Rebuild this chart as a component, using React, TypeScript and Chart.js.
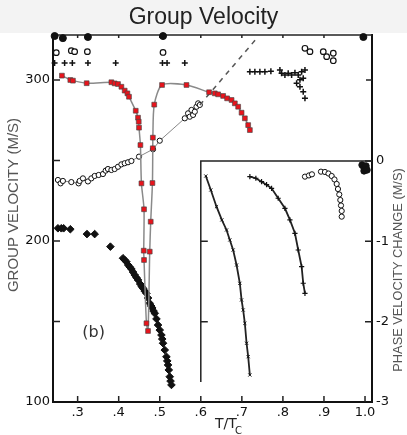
import React, { useEffect, useRef } from 'react';
import { Chart, registerables } from 'chart.js';
Chart.register(...registerables);

// ---- axis ticks ----
const xTickValues = [0.3, 0.4, 0.5, 0.6, 0.7, 0.8, 0.9, 1.0];
const xTickLabels = ['.3', '.4', '.5', '.6', '.7', '.8', '.9', '1.0'];
const yTickValues = [100, 200, 300];
const yTickLabels = ['100', '200', '300'];
const yTickMarks = [150, 200, 250, 300];
const y2TickValues = [-3, -2, -1, 0];
const y2TickLabels = ['-3', '-2', '-1', '0'];
const y2TickMarks = [-2, -1, 0];

// ---- main panel: group velocity (m/s) vs T/Tc ----
// digitized critical curve (red squares), left branch down then right branch up
const critX = [0.2617, 0.2822, 0.2885, 0.3220, 0.3822, 0.3902, 0.3983, 0.4066, 0.4146, 0.4212, 0.4251, 0.4415, 0.4471, 0.4488, 0.4495, 0.4529, 0.4554, 0.4617, 0.4610, 0.4617, 0.4676, 0.4715, 0.4756, 0.4780, 0.4822, 0.4830, 0.4832, 0.4866, 0.5056, 0.5651, 0.6202, 0.6341, 0.6422, 0.6544, 0.6641, 0.6749, 0.6829, 0.6910, 0.6993, 0.7073, 0.7154, 0.7195];
const critY = [302.7, 300.0, 299.6, 298.0, 298.6, 297.9, 297.5, 295.8, 293.4, 291.7, 289.6, 280.9, 276.6, 274.1, 270.4, 259.6, 235.8, 219.7, 194.0, 188.2, 148.9, 144.1, 193.4, 212.0, 236.0, 257.6, 264.2, 284.7, 296.9, 296.9, 292.4, 291.7, 291.1, 290.1, 288.6, 287.6, 285.5, 283.4, 279.7, 276.2, 272.0, 268.9];

// open circles rising chain
const circX = [0.2520, 0.2585, 0.2641, 0.2846, 0.3024, 0.3049, 0.3129, 0.3251, 0.3334, 0.3415, 0.3512, 0.3617, 0.3683, 0.3739, 0.3822, 0.3902, 0.3983, 0.4066, 0.4146, 0.4227, 0.4310, 0.4495, 0.4837, 0.5000, 0.5610, 0.5690, 0.5732, 0.5773, 0.5812, 0.5854, 0.5895, 0.5935, 0.5976];
const circY = [237.9, 235.8, 237.3, 236.6, 235.8, 237.3, 238.9, 237.0, 238.9, 240.4, 241.0, 241.6, 243.7, 244.7, 244.1, 244.7, 246.1, 247.6, 248.3, 248.9, 249.7, 252.4, 257.0, 262.3, 276.2, 279.3, 277.2, 281.4, 278.3, 280.3, 283.4, 285.5, 284.5];

// dashed extension
const dashX = [0.5976, 0.739];
const dashY = [284.5, 326.7];

// open circles near top
const topCircX = [0.248, 0.2846, 0.2927, 0.3237, 0.508, 0.8537, 0.8659, 0.8983, 0.9066, 0.9227, 0.9227];
const topCircY = [317.0, 318.2, 317.6, 317.6, 317.1, 319.7, 317.6, 317.6, 314.5, 316.6, 312.0];

// plus markers near top
const plusX = [0.2439, 0.2683, 0.2871, 0.3251, 0.3927, 0.5066, 0.5178, 0.5610, 0.7195, 0.7317, 0.7439, 0.7561, 0.7707, 0.7927, 0.7968, 0.8049, 0.8129, 0.8212, 0.8293, 0.8373, 0.8456, 0.8537, 0.8415, 0.8495, 0.8334, 0.8415, 0.8495, 0.8537];
const plusY = [310.5, 310.5, 310.5, 310.5, 310.5, 310.5, 310.5, 310.5, 305.2, 305.2, 305.2, 305.2, 305.4, 306.2, 304.2, 303.1, 304.2, 303.1, 304.5, 303.1, 305.2, 306.2, 300.1, 301.1, 298.0, 295.8, 292.7, 288.6];

// filled dots on the top edge
const topDotX = [0.244, 0.264, 0.325, 0.508, 0.996];
const topDotY = [327.3, 326.0, 326.7, 327.3, 326.7];

// filled dots falling chain
const dotX = [0.2520, 0.2602, 0.2659, 0.2822, 0.3227, 0.3415, 0.3798, 0.4105, 0.4146, 0.4188, 0.4232, 0.4268, 0.4310, 0.4349, 0.4390, 0.4432, 0.4471, 0.4524, 0.4561, 0.4593, 0.4634, 0.4676, 0.4715, 0.4756, 0.4793, 0.4817, 0.4849, 0.4878, 0.4920, 0.4959, 0.5000, 0.5041, 0.5061, 0.5080, 0.5122, 0.5163, 0.5183, 0.5202, 0.5220, 0.5244, 0.5263, 0.5285];
const dotY = [207.9, 207.9, 207.9, 207.3, 204.3, 204.3, 196.5, 189.3, 188.2, 187.1, 185.1, 183.9, 182.6, 180.7, 178.9, 177.3, 175.8, 173.3, 171.7, 170.6, 168.9, 167.5, 164.6, 161.3, 159.6, 158.4, 156.5, 155.1, 151.6, 147.8, 144.7, 141.6, 139.1, 136.5, 132.3, 128.1, 125.5, 123.0, 119.9, 115.7, 113.0, 110.6];

// ---- inset: phase velocity change (m/s) ----
const inXsX = [0.6122, 0.6244, 0.6383, 0.6512, 0.6627, 0.6707, 0.6788, 0.6871, 0.6951, 0.6993, 0.7032, 0.7073, 0.7115, 0.7154, 0.7195];
const inXsY = [-0.187, -0.361, -0.569, -0.734, -0.859, -0.983, -1.108, -1.295, -1.523, -1.730, -1.855, -2.020, -2.269, -2.436, -2.664];
const inPlusX = [0.7195, 0.7341, 0.7480, 0.7602, 0.7724, 0.7885, 0.8049, 0.8171, 0.8293, 0.8373, 0.8456, 0.8495, 0.8537];
const inPlusY = [-0.195, -0.215, -0.258, -0.295, -0.340, -0.464, -0.589, -0.734, -0.900, -1.108, -1.316, -1.522, -1.647];
const inCircX = [0.8537, 0.8634, 0.8707, 0.8927, 0.9024, 0.9110, 0.9188, 0.9256, 0.9310, 0.9341, 0.9373, 0.9398, 0.9415, 0.9432, 0.9432];
const inCircY = [-0.195, -0.180, -0.166, -0.133, -0.137, -0.156, -0.187, -0.230, -0.286, -0.349, -0.417, -0.486, -0.554, -0.622, -0.693];
const inDotX = [0.9927, 0.9976, 1.0024, 0.9976, 1.0049];
const inDotY = [-0.05, -0.087, -0.062, -0.124, -0.112];

const pts = (xs: number[], ys: number[]) => xs.map((x, i) => ({ x, y: ys[i] }));

const TICK_FONT = { family: "'DejaVu Sans', sans-serif", size: 13 };

const framePlugin = {
  id: 'frame',
  beforeDraw(chart: any) {
    const { ctx, width, height } = chart;
    ctx.save();
    ctx.fillStyle = '#ffffff';
    ctx.fillRect(0, 0, width, height);
    ctx.fillStyle = '#f3f3f3';
    ctx.fillRect(0, 0, width, 33);
    ctx.restore();
  },
  beforeDatasetsDraw(chart: any) {
    const { ctx, chartArea } = chart;
    const x = chart.scales.x;
    const y = chart.scales.y;
    const y2 = chart.scales.y2;
    ctx.save();
    ctx.strokeStyle = '#222';
    ctx.lineWidth = 1.5;
    // top border
    ctx.beginPath();
    ctx.moveTo(chartArea.left, chartArea.top);
    ctx.lineTo(chartArea.right, chartArea.top);
    ctx.stroke();
    // inset box
    const ix = x.getPixelForValue(0.6);
    const iy = y2.getPixelForValue(0);
    const ib = y2.getPixelForValue(-2.75);
    ctx.beginPath();
    ctx.moveTo(ix, ib);
    ctx.lineTo(ix, iy);
    ctx.lineTo(chartArea.right, iy);
    ctx.stroke();
    // inward ticks
    ctx.lineWidth = 1.5;
    ctx.beginPath();
    xTickValues.forEach((v) => {
      const px = x.getPixelForValue(v);
      ctx.moveTo(px, chartArea.bottom);
      ctx.lineTo(px, chartArea.bottom - 6);
      ctx.moveTo(px, chartArea.top);
      ctx.lineTo(px, chartArea.top + 3);
    });
    yTickMarks.forEach((v) => {
      const py = y.getPixelForValue(v);
      ctx.moveTo(chartArea.left, py);
      ctx.lineTo(chartArea.left + 7, py);
    });
    const p300 = y.getPixelForValue(300);
    ctx.moveTo(chartArea.right, p300);
    ctx.lineTo(chartArea.right - 6, p300);
    y2TickMarks.forEach((v) => {
      const py = y2.getPixelForValue(v);
      ctx.moveTo(chartArea.right, py);
      ctx.lineTo(chartArea.right - 7, py);
    });
    [-1, -2].forEach((v) => {
      const py = y2.getPixelForValue(v);
      ctx.moveTo(ix, py);
      ctx.lineTo(ix + 7, py);
    });
    ctx.stroke();
    // panel label
    ctx.fillStyle = '#333';
    ctx.font = "16px 'DejaVu Sans', sans-serif";
    ctx.textAlign = 'center';
    ctx.textBaseline = 'middle';
    ctx.fillText('(b)', x.getPixelForValue(0.339), y.getPixelForValue(142.9));
    ctx.restore();
  },
  afterDraw(chart: any) {
    const { ctx } = chart;
    ctx.save();
    ctx.fillStyle = '#555';
    ctx.textAlign = 'center';
    ctx.textBaseline = 'middle';
    ctx.font = "15px 'Liberation Sans', sans-serif";
    ctx.translate(14, 205);
    ctx.rotate(-Math.PI / 2);
    ctx.fillText('GROUP VELOCITY (M/S)', 0, 0);
    ctx.restore();

    ctx.save();
    ctx.fillStyle = '#555';
    ctx.textAlign = 'center';
    ctx.textBaseline = 'middle';
    ctx.font = "12.8px 'Liberation Sans', sans-serif";
    ctx.translate(398.5, 270);
    ctx.rotate(-Math.PI / 2);
    ctx.fillText('PHASE VELOCITY CHANGE (M/S)', 0, 0);
    ctx.restore();

    ctx.save();
    ctx.fillStyle = '#222';
    ctx.textAlign = 'left';
    ctx.textBaseline = 'alphabetic';
    ctx.font = "14px 'DejaVu Sans', sans-serif";
    ctx.fillText('T/T', 215, 428);
    ctx.font = "10px 'DejaVu Sans', sans-serif";
    ctx.fillText('C', 235, 434);
    ctx.restore();
  },
};

export default function App() {
  const ref = useRef<HTMLCanvasElement | null>(null);
  useEffect(() => {
    if (!ref.current) return;
    const chart = new Chart(ref.current, {
      type: 'scatter',
      data: {
        datasets: [
          {
            data: pts(critX, critY),
            showLine: true,
            tension: 0.25,
            borderColor: '#8a8a8a',
            borderWidth: 1.5,
            pointStyle: 'rect',
            pointRadius: 3.4,
            pointBackgroundColor: '#e8141c',
            pointBorderColor: 'rgba(70,70,70,0.8)',
            pointBorderWidth: 0.8,
            clip: false,
          } as any,
          {
            data: pts(dashX, dashY),
            showLine: true,
            borderColor: '#555',
            borderWidth: 1.5,
            borderDash: [5, 5],
            pointRadius: 0,
            clip: false,
          } as any,
          {
            data: pts(circX, circY),
            showLine: true,
            borderColor: '#888',
            borderWidth: 1,
            pointStyle: 'circle',
            pointRadius: 2.6,
            pointBackgroundColor: '#fff',
            pointBorderColor: '#111',
            pointBorderWidth: 1,
            clip: false,
          } as any,
          {
            data: pts(topCircX, topCircY),
            pointStyle: 'circle',
            pointRadius: 2.8,
            pointBackgroundColor: '#fff',
            pointBorderColor: '#111',
            pointBorderWidth: 1.2,
            clip: false,
          } as any,
          {
            data: pts(plusX, plusY),
            pointStyle: 'cross',
            pointRadius: 3,
            pointBorderColor: '#111',
            pointBorderWidth: 1.5,
            clip: false,
          } as any,
          {
            data: pts(topDotX, topDotY),
            pointStyle: 'circle',
            pointRadius: 3.5,
            pointBackgroundColor: '#111',
            pointBorderColor: '#111',
            clip: false,
          } as any,
          {
            data: pts(dotX, dotY),
            pointStyle: 'rectRot',
            pointRadius: 3.8,
            pointBackgroundColor: '#111',
            pointBorderColor: '#111',
            clip: false,
          } as any,
          {
            data: pts(inXsX, inXsY),
            yAxisID: 'y2',
            showLine: true,
            borderColor: '#222',
            borderWidth: 1.8,
            pointStyle: 'crossRot',
            pointRadius: 2.2,
            pointBorderColor: '#111',
            pointBorderWidth: 1,
            clip: false,
          } as any,
          {
            data: pts(inPlusX, inPlusY),
            yAxisID: 'y2',
            showLine: true,
            borderColor: '#222',
            borderWidth: 1.8,
            pointStyle: 'cross',
            pointRadius: 2.6,
            pointBorderColor: '#111',
            pointBorderWidth: 1.2,
            clip: false,
          } as any,
          {
            data: pts(inCircX, inCircY),
            yAxisID: 'y2',
            pointStyle: 'circle',
            pointRadius: 2.6,
            pointBackgroundColor: '#fff',
            pointBorderColor: '#111',
            pointBorderWidth: 1,
            clip: false,
          } as any,
          {
            data: pts(inDotX, inDotY),
            yAxisID: 'y2',
            pointStyle: 'circle',
            pointRadius: 3.2,
            pointBackgroundColor: '#111',
            pointBorderColor: '#111',
            clip: false,
          } as any,
        ],
      },
      options: {
        responsive: false,
        animation: false,
        devicePixelRatio: 1,
        layout: { padding: 0 },
        plugins: {
          legend: { display: false },
          tooltip: { enabled: false },
          title: {
            display: true,
            text: 'Group Velocity',
            color: '#222',
            font: { family: "'Liberation Sans', sans-serif", size: 23, weight: 'normal' },
            padding: { top: 3.5, bottom: 3.9 },
          },
        },
        scales: {
          x: {
            type: 'linear',
            position: 'bottom',
            min: 0.24,
            max: 1.017,
            afterBuildTicks: (s: any) => {
              s.ticks = xTickValues.map((v) => ({ value: v }));
            },
            afterFit: (s: any) => {
              s.height = 33;
            },
            ticks: {
              callback: (_v: any, i: number) => xTickLabels[i],
              autoSkip: false,
              maxRotation: 0,
              padding: 3,
              color: '#111',
              font: TICK_FONT,
            },
            grid: { display: false, drawTicks: false },
            border: { display: true, color: '#111', width: 2 },
          },
          y: {
            type: 'linear',
            position: 'left',
            min: 100,
            max: 327.95,
            afterBuildTicks: (s: any) => {
              s.ticks = yTickValues.map((v) => ({ value: v }));
            },
            afterFit: (s: any) => {
              s.width = 53;
            },
            ticks: {
              callback: (_v: any, i: number) => yTickLabels[i],
              autoSkip: false,
              padding: 3,
              color: '#111',
              font: TICK_FONT,
            },
            grid: { display: false, drawTicks: false },
            border: { display: true, color: '#111', width: 2 },
          },
          y2: {
            type: 'linear',
            position: 'right',
            min: -3,
            max: 1.568,
            afterBuildTicks: (s: any) => {
              s.ticks = y2TickValues.map((v) => ({ value: v }));
            },
            afterFit: (s: any) => {
              s.width = 35;
            },
            ticks: {
              callback: (_v: any, i: number) => y2TickLabels[i],
              autoSkip: false,
              padding: 4,
              color: '#111',
              font: TICK_FONT,
            },
            grid: { display: false, drawTicks: false },
            border: { display: true, color: '#111', width: 2 },
          },
        },
      } as any,
      plugins: [framePlugin],
    });
    return () => chart.destroy();
  }, []);

  return (
    <div style={{ position: 'absolute', left: 0, top: 0, width: 407, height: 435 }}>
      <canvas ref={ref} width={407} height={435} style={{ display: 'block', width: 407, height: 435 }} />
    </div>
  );
}
